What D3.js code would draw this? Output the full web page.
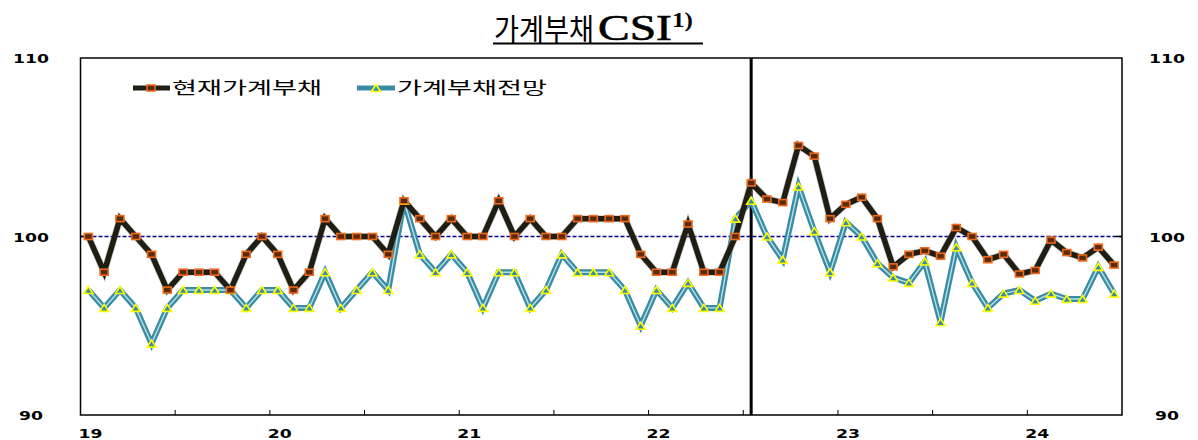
<!DOCTYPE html>
<html>
<head>
<meta charset="utf-8">
<script src="https://cdn.jsdelivr.net/npm/d3@7"></script>
<style>
  body { margin: 0; background: #fff; }
  svg { display: block; }
  .tick-label { font-family: "DejaVu Sans", Verdana, sans-serif; font-weight: bold; font-size: 13px; fill: #000; }
  .legend-text { font-family: "Noto Sans CJK KR", sans-serif; font-size: 17px; fill: #000; }
</style>
</head>
<body>
<div id="chart"></div>
<script>
// monthly, 2019.01 - 2024.06
const yearLabels = ["19", "20", "21", "22", "23", "24"];
const seriesNames = ["현재가계부채", "가계부채전망"];

const currentDebt = [
  100, 98, 101, 100, 99, 97, 98, 98, 98, 97, 99, 100,
  99, 97, 98, 101, 100, 100, 100, 99, 102, 101, 100, 101,
  100, 100, 102, 100, 101, 100, 100, 101, 101, 101, 101, 99,
  98, 98, 100.7, 98, 98, 100, 103, 102.1, 101.9, 105.1, 104.5, 101,
  101.8, 102.2, 101, 98.3, 99, 99.2, 98.9, 100.5, 100, 98.7, 99, 97.9,
  98.1, 99.8, 99.1, 98.8, 99.4, 98.4
];
const debtOutlook = [
  97, 96, 97, 96, 94, 96, 97, 97, 97, 97, 96, 97,
  97, 96, 96, 98, 96, 97, 98, 97, 102, 99, 98, 99,
  98, 96, 98, 98, 96, 97, 99, 98, 98, 98, 97, 95,
  97, 96, 97.4, 96, 96, 101, 102, 100, 98.7, 102.8, 100.3, 98,
  100.8, 100, 98.5, 97.7, 97.4, 98.6, 95.2, 99.4, 97.4, 96, 96.8, 97,
  96.4, 96.8, 96.5, 96.5, 98.3, 96.8
];
const breakMonth = 42; // 2022.07

const width = 1198, height = 440;
const plotL = 80.5, plotR = 1122, plotT = 58, plotB = 415;

const svg = d3.select("#chart").append("svg")
  .attr("width", width)
  .attr("height", height);

const x = d3.scaleLinear().domain([0, currentDebt.length]).range([plotL, plotR]);
const y = d3.scaleLinear().domain([90, 110]).range([plotB, plotT]);
const px = i => x(i + 0.5);

// title, stretched wide like the source image
svg.append("text")
  .attr("x", 494).attr("y", 40)
  .attr("textLength", 100).attr("lengthAdjust", "spacingAndGlyphs")
  .style("font-family", "'Noto Sans CJK KR', sans-serif")
  .style("font-size", "30px")
  .text("가계부채");
svg.append("text")
  .attr("transform", "translate(598,40) scale(1.32,1)")
  .style("font-family", "'Liberation Serif', serif")
  .style("font-size", "36px")
  .style("stroke", "#000").style("stroke-width", 0.6)
  .text("CSI");
svg.append("text")
  .attr("transform", "translate(672,27) scale(1.2,1)")
  .style("font-family", "'Liberation Serif', serif")
  .style("font-weight", "bold")
  .style("font-size", "21px")
  .text("1)");
svg.append("line")
  .attr("x1", 493).attr("x2", 703)
  .attr("y1", 43.5).attr("y2", 43.5)
  .attr("stroke", "#000").attr("stroke-width", 1.8);

// frame
svg.append("rect")
  .attr("x", plotL).attr("y", plotT)
  .attr("width", plotR - plotL).attr("height", plotB - plotT)
  .attr("fill", "none").attr("stroke", "#000").attr("stroke-width", 1.5);

// half-year ticks on bottom
const tickMonths = d3.range(6, currentDebt.length, 6);
svg.selectAll(".xtick").data(tickMonths).enter().append("line")
  .attr("class", "xtick")
  .attr("x1", d => x(d)).attr("x2", d => x(d))
  .attr("y1", plotB).attr("y2", plotB - 5)
  .attr("stroke", "#000").attr("stroke-width", 1);

svg.selectAll(".xlabel").data(yearLabels).enter().append("text")
  .attr("class", "tick-label")
  .attr("x", (d, i) => x(i * 12) + 10)
  .attr("y", 438)
  .attr("text-anchor", "middle")
  .attr("textLength", 24).attr("lengthAdjust", "spacingAndGlyphs")
  .text(d => d);

// y labels both sides
const yTicks = [90, 100, 110];
[31, 1167].forEach(cx => {
  svg.selectAll(null).data(yTicks).enter().append("text")
    .attr("class", "tick-label")
    .attr("x", cx).attr("y", d => y(d) + 5)
    .attr("text-anchor", "middle")
    .attr("textLength", d => String(d).length * 12).attr("lengthAdjust", "spacingAndGlyphs")
    .text(d => d);
});

// 100 reference
svg.append("line")
  .attr("x1", plotL).attr("x2", plotR)
  .attr("y1", y(100)).attr("y2", y(100))
  .attr("stroke", "#00008b").attr("stroke-width", 1.6)
  .attr("stroke-dasharray", "4,2");
[[plotL, plotL + 6], [plotR - 6, plotR]].forEach(s => {
  svg.append("line")
    .attr("x1", s[0]).attr("x2", s[1])
    .attr("y1", y(100)).attr("y2", y(100))
    .attr("stroke", "#000").attr("stroke-width", 1.5);
});

// break line
svg.append("line")
  .attr("x1", px(breakMonth)).attr("x2", px(breakMonth))
  .attr("y1", plotT).attr("y2", plotB)
  .attr("stroke", "#000").attr("stroke-width", 3);

const line = d3.line().x((d, i) => px(i)).y(d => y(d));

// outlook series (teal double line)
svg.append("path").datum(debtOutlook)
  .attr("d", line).attr("fill", "none")
  .attr("stroke", "#3a8ca2").attr("stroke-width", 6);
svg.append("path").datum(debtOutlook)
  .attr("d", line).attr("fill", "none")
  .attr("stroke", "#b8e0ea").attr("stroke-width", 1.4);

// current series (dark line)
svg.append("path").datum(currentDebt)
  .attr("d", line).attr("fill", "none")
  .attr("stroke", "#a09e96").attr("stroke-width", 7).attr("stroke-opacity", 0.5);
svg.append("path").datum(currentDebt)
  .attr("d", line).attr("fill", "none")
  .attr("stroke", "#201d12").attr("stroke-width", 5.5);

function square(g, cx, cy) {
  g.append("rect")
    .attr("x", cx - 4).attr("y", cy - 3)
    .attr("width", 8).attr("height", 6)
    .attr("fill", "#5a2a0c").attr("stroke", "#ee6a1c").attr("stroke-width", 1.6);
}
function triangle(g, cx, cy) {
  g.append("path")
    .attr("d", `M${cx - 4.5},${cy + 3.5}L${cx},${cy - 3.5}L${cx + 4.5},${cy + 3.5}Z`)
    .attr("fill", "#3a8ca2").attr("stroke", "#ffff00").attr("stroke-width", 1.6);
}

const marks = svg.append("g");
debtOutlook.forEach((d, i) => triangle(marks, px(i), y(d)));
currentDebt.forEach((d, i) => square(marks, px(i), y(d)));

// legend
const legend = svg.append("g");
legend.append("line").attr("x1", 133).attr("x2", 170).attr("y1", 88).attr("y2", 88)
  .attr("stroke", "#201d12").attr("stroke-width", 5);
square(legend, 151, 88);
legend.append("text").attr("class", "legend-text").attr("x", 172).attr("y", 94)
  .attr("textLength", 150).attr("lengthAdjust", "spacingAndGlyphs")
  .text(seriesNames[0]);

legend.append("line").attr("x1", 357).attr("x2", 395).attr("y1", 88).attr("y2", 88)
  .attr("stroke", "#3a8ca2").attr("stroke-width", 5);
triangle(legend, 376, 88);
legend.append("text").attr("class", "legend-text").attr("x", 397).attr("y", 94)
  .attr("textLength", 150).attr("lengthAdjust", "spacingAndGlyphs")
  .text(seriesNames[1]);
</script>
</body>
</html>
